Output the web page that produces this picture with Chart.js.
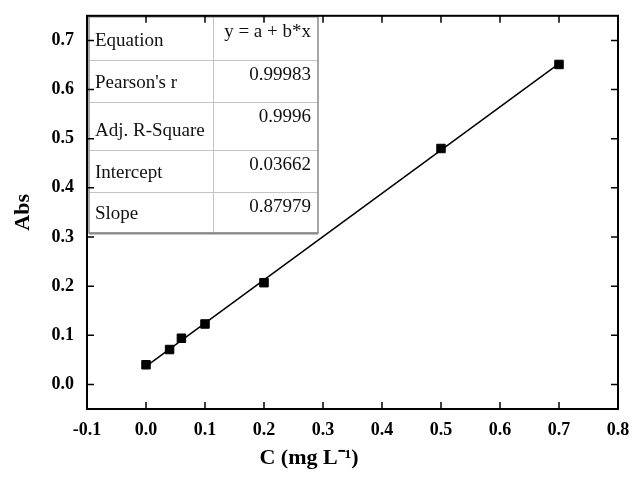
<!DOCTYPE html>
<html>
<head>
<meta charset="utf-8">
<script src="https://cdn.jsdelivr.net/npm/chart.js@4.4.0/dist/chart.umd.min.js"></script>
<style>
  html, body { margin: 0; padding: 0; background: #fff; }
  #wrap { width: 635px; height: 481px; }
</style>
</head>
<body>
<div id="wrap"><canvas id="grafica"></canvas></div>
<script>
// measured points
const concentracion = [0, 0.04, 0.06, 0.1, 0.2, 0.5, 0.7]
const absorbancia = [0.040, 0.071, 0.094, 0.123, 0.207, 0.480, 0.651]

// fitted line ends
const ajusteX = [0, 0.7]
const ajusteY = [0.0366, 0.6525]

const xTicks = [-0.1, 0.0, 0.1, 0.2, 0.3, 0.4, 0.5, 0.6, 0.7, 0.8]
const xTickLabels = ['-0.1', '0.0', '0.1', '0.2', '0.3', '0.4', '0.5', '0.6', '0.7', '0.8']
const yTicks = [0.0, 0.1, 0.2, 0.3, 0.4, 0.5, 0.6, 0.7]
const yTickLabels = ['0.0', '0.1', '0.2', '0.3', '0.4', '0.5', '0.6', '0.7']

// fit table
const tablaNombres = ['Equation', "Pearson's r", 'Adj. R-Square', 'Intercept', 'Slope']
const tablaValores = ['y = a + b*x', '0.99983', '0.9996', '0.03662', '0.87979']

const serif = '"Liberation Serif", "Times New Roman", serif'

// table over the plot area, top left corner
const tablaPlugin = {
    id: 'tabla',
    afterDatasetsDraw(chart) {
        const ctx = chart.ctx
        const area = chart.chartArea
        const x0 = area.left + 2
        const x1 = 318
        const xm = 213
        const y0 = area.top + 1
        const y1 = 233
        const filas = [y0, 60, 102, 150, 192, y1]

        ctx.save()
        ctx.fillStyle = '#fff'
        ctx.fillRect(x0, y0, x1 - x0, y1 - y0)

        ctx.strokeStyle = '#c4c4c4'
        ctx.lineWidth = 1
        ctx.beginPath()
        for (let i = 1; i < filas.length - 1; i++) {
            ctx.moveTo(x0, filas[i] + 0.5)
            ctx.lineTo(x1, filas[i] + 0.5)
        }
        ctx.moveTo(xm + 0.5, y0)
        ctx.lineTo(xm + 0.5, y1)
        ctx.stroke()

        ctx.strokeStyle = '#8a8a8a'
        ctx.lineWidth = 1.5
        ctx.strokeRect(x0, y0, x1 - x0, y1 - y0)
        ctx.lineWidth = 2
        ctx.beginPath()
        ctx.moveTo(x0, y1 + 0.5)
        ctx.lineTo(x1, y1 + 0.5)
        ctx.stroke()

        ctx.fillStyle = '#111'
        ctx.font = '19px ' + serif
        ctx.textBaseline = 'alphabetic'
        tablaNombres.forEach((nombre, i) => {
            const top = filas[i]
            const bot = filas[i + 1]
            ctx.textAlign = 'left'
            ctx.fillText(nombre, 95, bot - 14)
            ctx.textAlign = 'right'
            ctx.fillText(tablaValores[i], 311, top + 20)
        })
        ctx.restore()
    }
}

// frame with inward ticks on the four sides
const marcoPlugin = {
    id: 'marco',
    afterDraw(chart) {
        const ctx = chart.ctx
        const {left, right, top, bottom} = chart.chartArea
        const sx = chart.scales.x
        const sy = chart.scales.y
        const largo = 7

        ctx.save()
        ctx.strokeStyle = '#000'
        ctx.lineWidth = 1.5
        ctx.beginPath()
        sx.ticks.forEach(t => {
            const x = sx.getPixelForValue(t.value)
            ctx.moveTo(x, bottom)
            ctx.lineTo(x, bottom - largo)
            ctx.moveTo(x, top)
            ctx.lineTo(x, top + largo)
        })
        sy.ticks.forEach(t => {
            const y = sy.getPixelForValue(t.value)
            ctx.moveTo(left, y)
            ctx.lineTo(left + largo, y)
            ctx.moveTo(right, y)
            ctx.lineTo(right - largo, y)
        })
        ctx.stroke()
        ctx.lineWidth = 2
        ctx.strokeRect(left, top, right - left, bottom - top)
        ctx.restore()
    }
}

const ctx = document.getElementById('grafica').getContext('2d')
const myChart = new Chart(ctx, {
    type: 'scatter',
    data: {
        datasets: [{
            label: 'fit',
            type: 'line',
            data: ajusteX.map((x, i) => ({x: x, y: ajusteY[i]})),
            borderColor: '#000',
            borderWidth: 1.5,
            pointRadius: 0,
            fill: false
        }, {
            label: 'Abs',
            data: concentracion.map((x, i) => ({x: x, y: absorbancia[i]})),
            pointStyle: 'rect',
            pointRadius: 6,
            pointBorderWidth: 1,
            pointBackgroundColor: '#000',
            pointBorderColor: '#000'
        }]
    },
    options: {
        responsive: true,
        maintainAspectRatio: false,
        animation: false,
        layout: {
            padding: {left: 0, top: 14, right: 17, bottom: 0}
        },
        scales: {
            x: {
                type: 'linear',
                min: -0.1,
                max: 0.8,
                afterBuildTicks: scale => { scale.ticks = xTicks.map(v => ({value: v})) },
                afterFit: scale => { scale.height = 36.6 },
                grid: {display: false},
                border: {display: false},
                ticks: {
                    color: '#000',
                    padding: 3,
                    maxRotation: 0,
                    font: {family: serif, size: 18, weight: 'bold'},
                    callback: (v, i) => xTickLabels[i]
                }
            },
            y: {
                type: 'linear',
                min: -0.05,
                max: 0.75,
                afterBuildTicks: scale => { scale.ticks = yTicks.map(v => ({value: v})) },
                afterFit: scale => { scale.width = 87 },
                grid: {display: false},
                border: {display: false},
                title: {
                    display: true,
                    text: 'Abs',
                    color: '#000',
                    padding: {top: 10, bottom: 0},
                    font: {family: serif, size: 22, weight: 'bold'}
                },
                ticks: {
                    color: '#000',
                    padding: 5,
                    font: {family: serif, size: 18, weight: 'bold'},
                    callback: (v, i) => yTickLabels[i]
                }
            }
        },
        plugins: {
            legend: {display: false},
            tooltip: {enabled: false},
            title: {
                display: true,
                position: 'bottom',
                text: 'C (mg L\u207B\u00B9)',
                color: '#000',
                padding: {top: 0, bottom: 9},
                font: {family: serif, size: 22, weight: 'bold', lineHeight: 1.2}
            }
        }
    },
    plugins: [tablaPlugin, marcoPlugin]
});
</script>
</body>
</html>
